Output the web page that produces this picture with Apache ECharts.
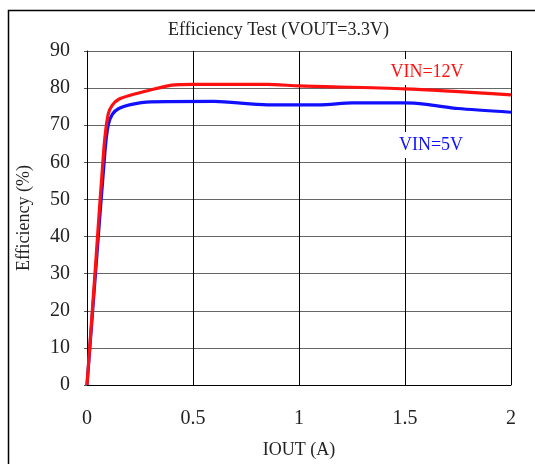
<!DOCTYPE html>
<html><head><meta charset="utf-8">
<script src="https://cdn.jsdelivr.net/npm/echarts@6/dist/echarts.min.js"></script>
<style>html,body{margin:0;padding:0;background:#fff}#c{width:535px;height:464px}</style>
</head><body><div id="c"></div>
<script>
const xTicks = [0, 0.5, 1, 1.5, 2];
const yTicks = [0, 10, 20, 30, 40, 50, 60, 70, 80, 90];
const vin12x = [0, 0.04, 0.08, 0.1, 0.12, 0.15, 0.2, 0.3, 0.4, 0.5, 0.85, 1, 1.5, 2];
const vin12y = [0, 32, 64, 73, 75.5, 77, 78, 79.5, 80.8, 81, 81, 80.6, 79.8, 78.2];
const vin5x = [0, 0.04, 0.085, 0.1, 0.12, 0.15, 0.2, 0.3, 0.6, 0.85, 1.1, 1.25, 1.5, 1.6, 1.75, 2];
const vin5y = [0, 30, 63, 70, 73, 74.5, 75.5, 76.3, 76.4, 75.5, 75.5, 76, 76, 75.6, 74.5, 73.5];
const seriesNames = ['VIN=12V', 'VIN=5V'];

const font = '"Liberation Serif", "DejaVu Serif", serif';
const chart = echarts.init(document.getElementById('c'));
const zip = (xs, ys) => xs.map((x, i) => [x, ys[i]]);
chart.setOption({
  animation: false,
  backgroundColor: '#fff',
  title: {
    text: 'Efficiency Test (VOUT=3.3V)', left: 163, top: 16,
    textStyle: { fontFamily: font, fontSize: 18, fontWeight: 'normal', color: '#222' }
  },
  grid: { left: 87, right: 24, top: 51, bottom: 78 },
  xAxis: {
    type: 'value', min: 0, max: 2, interval: 0.5,
    name: 'IOUT (A)', nameLocation: 'middle', nameGap: 56,
    nameTextStyle: { fontFamily: font, fontSize: 18, color: '#222' },
    axisLine: { lineStyle: { color: '#000', width: 1 } },
    axisTick: { show: false },
    axisLabel: { fontFamily: font, fontSize: 20, color: '#222', margin: 24,
      formatter: v => String(v) },
    splitLine: { show: true, lineStyle: { color: '#000', width: 1 } }
  },
  yAxis: {
    type: 'value', min: 0, max: 90, interval: 10,
    name: 'Efficiency (%)', nameLocation: 'middle', nameGap: 54,
    nameTextStyle: { fontFamily: font, fontSize: 18, color: '#222' },
    axisLine: { show: true, lineStyle: { color: '#000', width: 1 } },
    axisTick: { show: true, length: 3, lineStyle: { color: '#555' } },
    axisLabel: { fontFamily: font, fontSize: 20, color: '#222', margin: 17 },
    splitLine: { show: true, lineStyle: { color: '#666', width: 1.2 } }
  },
  series: [
    { name: seriesNames[1], type: 'line', data: zip(vin5x, vin5y), showSymbol: false,
      smooth: 0.25, lineStyle: { color: '#1010ff', width: 3.2 }, z: 2 },
    { name: seriesNames[0], type: 'line', data: zip(vin12x, vin12y), showSymbol: false,
      smooth: 0.25, lineStyle: { color: '#ff1010', width: 3.2 }, z: 3 }
  ],
  graphic: [
    { type: 'rect', shape: { x: 8.5, y: 10.5, width: 600, height: 600 },
      style: { fill: 'none', stroke: '#000', lineWidth: 1.5 }, silent: true, z: -1 },
    { type: 'text', x: 427, y: 72, style: { text: seriesNames[0], fill: '#ff1010',
      font: '18px ' + font, align: 'center', verticalAlign: 'middle',
      backgroundColor: '#fff', padding: [4, 2] }, z: 10 },
    { type: 'text', x: 431, y: 145, style: { text: seriesNames[1], fill: '#1010ff',
      font: '18px ' + font, align: 'center', verticalAlign: 'middle',
      backgroundColor: '#fff', padding: [4, 2] }, z: 10 }
  ]
});
</script></body></html>
